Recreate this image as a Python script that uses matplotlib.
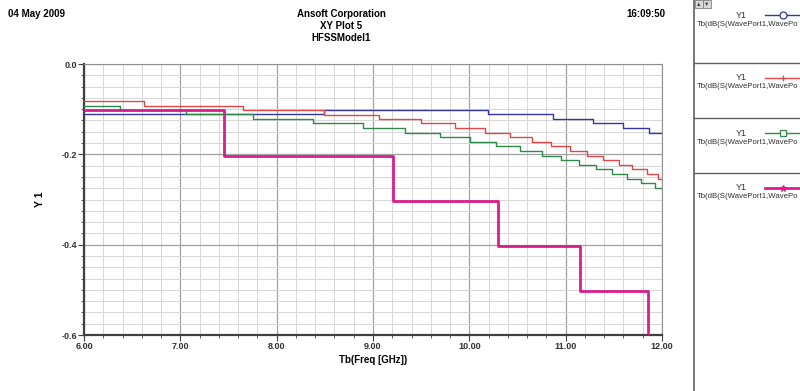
import numpy as np
import matplotlib
matplotlib.use('Agg')
import matplotlib.pyplot as plt
from matplotlib.ticker import MultipleLocator, FormatStrFormatter

plt.rcParams['font.family'] = ['Liberation Sans', 'DejaVu Sans']

# step data: frequency where each level starts, and the level
blue_f = [6.00, 8.49, 10.19, 10.87, 11.28, 11.60, 11.86]
blue_y = [-0.111, -0.102, -0.111, -0.122, -0.131, -0.142, -0.152]

red_f = [6.00, 6.62, 7.65, 8.49, 9.06, 9.50, 9.85, 10.16, 10.42, 10.65, 10.85,
         11.05, 11.22, 11.39, 11.55, 11.69, 11.84, 11.96]
red_y = [-0.082, -0.092, -0.102, -0.113, -0.122, -0.131, -0.142, -0.152, -0.162,
         -0.172, -0.182, -0.193, -0.203, -0.213, -0.224, -0.233, -0.244, -0.254]

green_f = [6.00, 6.37, 7.06, 7.75, 8.38, 8.90, 9.33, 9.70, 10.01, 10.28, 10.53,
           10.75, 10.95, 11.14, 11.32, 11.48, 11.64, 11.78, 11.93]
green_y = [-0.092, -0.102, -0.111, -0.122, -0.131, -0.142, -0.152, -0.162, -0.172,
           -0.182, -0.193, -0.203, -0.213, -0.224, -0.233, -0.244, -0.254, -0.263, -0.274]

pink_f = [6.00, 7.45, 9.21, 10.30, 11.15, 11.85]
pink_y = [-0.102, -0.203, -0.303, -0.402, -0.503, -0.610]

series = [
    (blue_f, blue_y, '#3535a8', 1.0, 'o'),
    (red_f, red_y, '#e04848', 1.0, '+'),
    (green_f, green_y, '#2f8a4a', 1.0, 's'),
    (pink_f, pink_y, '#d81e8c', 2.0, '*'),
]
# the panel is too narrow for the whole trace name, it shows only this much
legend_label = 'Tb(dB(S(WavePort1,WavePo'

fig = plt.figure(figsize=(8, 3.91), dpi=100)
ax = fig.add_axes([0.105, 0.1432, 0.7225, 0.6931])

for f, y, c, lw, m in series:
    xs = list(f) + [12.0]
    ys = list(y) + [y[-1]]
    ax.step(xs, ys, where='post', color=c, linewidth=lw, zorder=3)

ax.set_xlim(6.0, 12.0)
ax.set_ylim(-0.6, 0.0)
ax.xaxis.set_major_locator(MultipleLocator(1.0))
ax.xaxis.set_minor_locator(MultipleLocator(0.2))
ax.yaxis.set_major_locator(MultipleLocator(0.2))
ax.yaxis.set_minor_locator(MultipleLocator(0.025))
ax.xaxis.set_major_formatter(FormatStrFormatter('%.2f'))
ax.yaxis.set_major_formatter(FormatStrFormatter('%.1f'))

ax.grid(which='major', color='#a0a0a0', linewidth=0.9)
ax.grid(which='minor', color='#d6d6d6', linewidth=0.7)
ax.set_axisbelow(True)

for side in ['top', 'right']:
    ax.spines[side].set_color('#909090')
    ax.spines[side].set_linewidth(0.8)
for side in ['left', 'bottom']:
    ax.spines[side].set_color('#404040')
    ax.spines[side].set_linewidth(1.6)

ax.tick_params(which='major', direction='out', length=4, width=0.8, color='#404040',
               labelsize=6.5, pad=1)
ax.tick_params(which='minor', direction='out', length=2.5, width=0.6, color='#404040')
for lab in ax.get_xticklabels() + ax.get_yticklabels():
    lab.set_fontweight('bold')
    lab.set_color('#303030')

ax.set_xlabel('Tb(Freq [GHz])', fontsize=7, fontweight='bold', labelpad=3)
ax.set_ylabel('Y 1', fontsize=7.5, fontweight='bold', labelpad=12)

# header texts
fig.text(8 / 800, 1 - 14 / 391, '04 May 2009', fontsize=7, fontweight='bold', va='center')
fig.text(341 / 800, 1 - 14 / 391, 'Ansoft Corporation', fontsize=7, fontweight='bold',
         ha='center', va='center')
fig.text(341 / 800, 1 - 26 / 391, 'XY Plot 5', fontsize=7, fontweight='bold',
         ha='center', va='center')
fig.text(341 / 800, 1 - 38 / 391, 'HFSSModel1', fontsize=7, fontweight='bold',
         ha='center', va='center')
fig.text(665 / 800, 1 - 14 / 391, '16:09:50', fontsize=7, fontweight='bold',
         ha='right', va='center')

# legend panel on the right
lg = fig.add_axes([694 / 800, 0, 106 / 800, 1])
lg.set_xlim(694, 800)
lg.set_ylim(391, 0)
lg.set_xticks([])
lg.set_yticks([])
for side in ['top', 'right', 'bottom']:
    lg.spines[side].set_visible(False)
lg.spines['left'].set_color('#606060')
lg.spines['left'].set_linewidth(1.2)

# little scroll buttons
for bx, mark in [(695, '▲'), (703, '▼')]:
    lg.add_patch(plt.Rectangle((bx, 0), 8, 8, facecolor='#d8d8d8', edgecolor='#808080',
                               linewidth=0.6))
    lg.text(bx + 4, 4, mark, fontsize=4, ha='center', va='center', color='#404040')

entry_top = [0, 63, 118, 173]
for i, (f, y, c, lw, m) in enumerate(series):
    top = entry_top[i]
    if i > 0:
        lg.plot([694, 800], [top, top], color='#606060', linewidth=1.0)
    lg.text(741, top + 15, 'Y1', fontsize=6.5, ha='center', va='center', color='#303030')
    lg.plot([765, 800], [top + 15, top + 15], color=c, linewidth=lw, clip_on=True)
    mfc = 'white' if m in ('o', 's') else c
    lg.plot([783], [top + 15], marker=m, markersize=5, color=c, markerfacecolor=mfc,
            markeredgewidth=0.9)
    lg.text(697, top + 24, legend_label, fontsize=5.6, ha='left', va='center',
            color='#303030')

fig.savefig('out.png', dpi=100)
